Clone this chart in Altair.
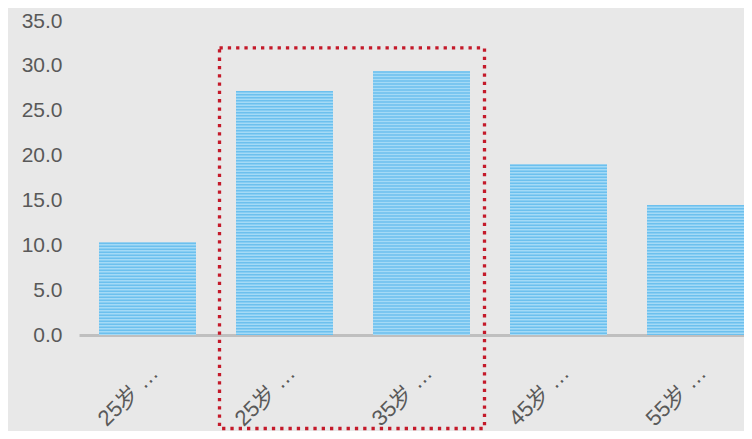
import altair as alt
import pandas as pd

# ---- data ----
categories = ["25岁以下", "25岁-35岁", "35岁-45岁", "45岁-55岁", "55岁以上"]
values = [10.3, 27.2, 29.4, 19.0, 14.5]
y_ticks = [0, 5, 10, 15, 20, 25, 30, 35]
highlight_start = ["25岁-35岁"]
highlight_end = ["35岁-45岁"]
highlight_top = [32.0]

df = pd.DataFrame({"cat": categories, "value": values})
box = pd.DataFrame({"start": highlight_start, "end": highlight_end, "top": highlight_top})

FONT = "Liberation Sans"
LABEL = "#595959"

xscale = alt.Scale(domain=categories, paddingInner=0.29197, paddingOuter=0.073, align=1)
yscale = alt.Scale(domain=[0, 35], nice=False)

xaxis = alt.Axis(
    title=None, labelAngle=-45, ticks=False, domainColor="#bfbfbf", domainWidth=3,
    labelColor=LABEL, labelFontSize=22, labelFont=FONT,
    labelExpr="substring(datum.label, 0, 3) + '  …'", labelPadding=27,
)
yaxis = alt.Axis(
    title=None, values=y_ticks, format=".1f", domain=False, ticks=False, grid=False,
    labelColor=LABEL, labelFontSize=21, labelFont=FONT, labelPadding=17,
)

bars = alt.Chart(df).mark_bar(color="#a4daf6").encode(
    x=alt.X("cat:N", scale=xscale, axis=xaxis, sort=categories),
    y=alt.Y("value:Q", scale=yscale, axis=yaxis),
)

stripes = alt.Chart(df).mark_rule(
    color="#6cc0ee", strokeWidth=97, strokeDash=[1.5, 1.5], strokeCap="butt"
).encode(
    x=alt.X("cat:N", scale=xscale, sort=categories),
    y=alt.Y("value:Q", scale=yscale),
    y2=alt.datum(0),
)

highlight = alt.Chart(box).mark_rect(
    fill="white", fillOpacity=0, stroke="#c41a2a", strokeWidth=3.3,
    strokeDash=[3.3, 5], xOffset=-16.5, x2Offset=14.5,
).encode(
    x=alt.X("start:N", scale=xscale, bandPosition=0),
    x2=alt.X2("end:N", bandPosition=1),
    y=alt.Y("top:Q", scale=yscale),
    y2=alt.value(407.5),
)

chart = (
    alt.layer(bars, stripes, highlight)
    .properties(
        width=665, height=314,
        autosize=alt.AutoSizeParams(type="none"),
        padding={"left": 71, "top": 13, "right": 0, "bottom": 96},
        background="#e8e8e8",
    )
    .configure_view(strokeWidth=0)
)

chart.save("out.html", embed_options={"renderer": "svg", "actions": False})
